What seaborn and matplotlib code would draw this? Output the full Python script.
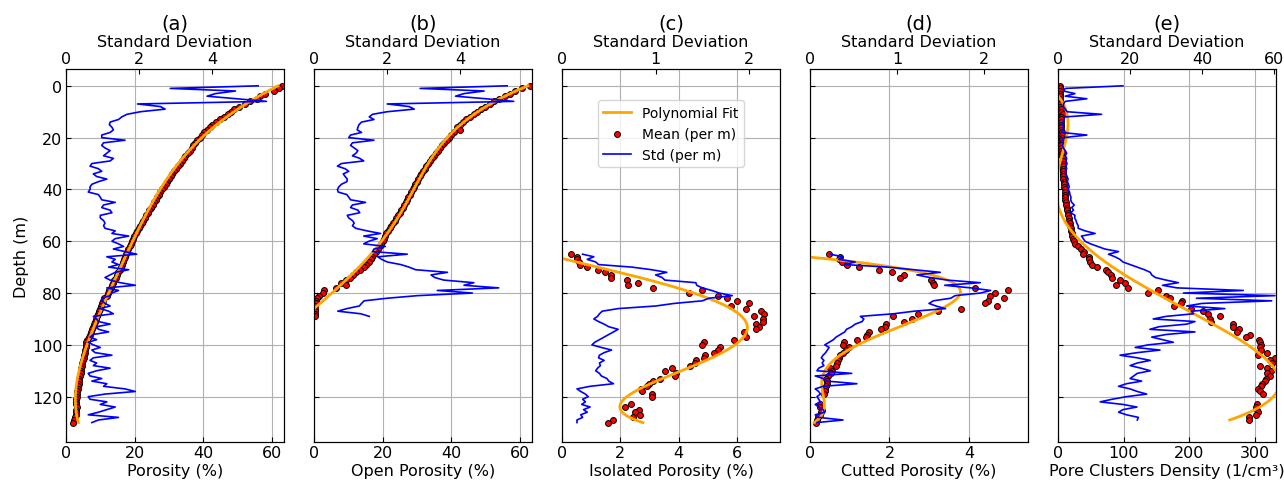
import numpy as np
import seaborn as sns
import matplotlib.pyplot as plt

# ---- (a) Porosity, 0-130 m ----
depth_a = np.arange(0, 131)
mean_a = [63.0, 62.0, 60.5, 58.0, 56.5, 55.5, 53.5, 52.0, 50.5, 49.0,
          48.0, 47.2, 46.0, 44.8, 43.6, 42.6, 41.8, 41.0, 40.3, 39.6,
          39.0, 38.3, 37.6, 37.1, 36.6, 36.0, 35.4, 34.8, 34.3, 33.7,
          33.2, 32.6, 32.1, 31.5, 31.0, 30.5, 30.0, 29.5, 29.0, 28.5,
          28.0, 27.5, 27.1, 26.6, 26.1, 25.6, 25.2, 24.7, 24.2, 23.8,
          23.4, 22.9, 22.5, 22.1, 21.6, 21.2, 20.8, 20.3, 19.8, 19.5,
          19.1, 18.8, 18.6, 18.2, 17.9, 17.6, 17.3, 16.9, 16.6, 16.3,
          16.0, 15.6, 15.2, 14.8, 14.5, 14.1, 13.7, 13.4, 13.0, 12.6,
          12.3, 11.8, 11.2, 10.9, 10.6, 10.2, 9.9, 9.6, 9.3, 9.0,
          8.7, 8.4, 8.1, 7.9, 7.6, 7.3, 7.0, 6.6, 6.1, 5.8,
          5.9, 5.7, 5.6, 5.5, 5.3, 5.2, 5.0, 4.8, 4.6, 4.5,
          4.4, 4.3, 4.1, 3.9, 3.8, 3.7, 3.5, 3.4, 3.3, 3.2,
          3.2, 3.0, 2.9, 3.0, 3.3, 3.0, 2.9, 2.8, 2.5, 2.2, 1.9]
std_a = [5.27, 2.86, 4.65, 4.1, 3.87, 4.7, 5.5, 1.96, 2.59, 2.72,
         2.04, 1.67, 1.53, 1.44, 1.21, 1.19, 1.26, 1.3, 1.21, 0.98,
         0.98, 1.62, 1.03, 0.98, 1.07, 1.21, 1.12, 1.03, 1.3, 1.21,
         0.71, 0.66, 0.89, 0.98, 0.75, 0.84, 1.12, 0.89, 0.71, 0.66,
         0.66, 0.61, 0.89, 0.94, 0.98, 1.35, 1.03, 0.98, 1.21, 1.26,
         0.94, 0.94, 1.03, 1.07, 1.03, 1.07, 1.35, 1.26, 1.72, 1.35,
         1.26, 1.44, 1.58, 1.3, 1.62, 1.94, 1.12, 1.35, 1.26, 1.44,
         1.17, 1.72, 1.35, 1.21, 1.07, 1.21, 1.49, 1.9, 1.12, 1.44,
         1.26, 1.21, 0.98, 0.98, 1.07, 1.21, 0.94, 1.17, 1.3, 0.75,
         0.84, 0.89, 1.21, 0.84, 0.89, 1.17, 0.75, 0.66, 0.84, 0.61,
         0.75, 0.94, 0.71, 0.8, 1.26, 0.75, 0.66, 0.84, 0.75, 1.21,
         0.84, 0.61, 0.66, 0.98, 0.71, 1.12, 1.03, 1.62, 1.9, 1.07,
         0.61, 0.66, 1.12, 0.94, 1.35, 1.12, 0.89, 0.61, 1.44, 0.89, 0.71]

# ---- (b) Open porosity, 0-89 m ----
depth_b = np.arange(0, 90)
mean_b = [62.8, 60.5, 58.5, 57.0, 55.6, 54.0, 52.5, 51.2, 49.8, 48.6,
          47.5, 46.5, 45.4, 44.3, 43.4, 42.4, 41.6, 42.6, 40.8, 39.9,
          39.3, 38.6, 37.9, 37.3, 36.7, 36.1, 35.5, 34.9, 34.4, 33.8,
          33.2, 32.7, 32.2, 31.7, 31.2, 30.8, 30.3, 29.9, 29.5, 29.1,
          28.7, 28.3, 27.9, 27.5, 27.1, 26.7, 26.2, 25.8, 25.4, 25.0,
          24.5, 24.0, 23.5, 23.0, 22.5, 22.0, 21.5, 21.0, 20.6, 20.3,
          20.0, 19.5, 19.1, 18.6, 18.0, 17.5, 17.0, 16.5, 16.0, 15.2,
          14.6, 13.5, 12.3, 11.5, 10.5, 9.3, 7.8, 9.2, 6.4, 3.0,
          2.6, 1.6, 1.0, 0.6, 0.5, 0.4, 0.4, 0.3, 0.3, 0.3]
std_b = [5.28, 2.9, 4.65, 4.1, 3.87, 4.7, 5.46, 2.0, 2.6, 2.74,
         2.0, 1.6, 1.51, 1.64, 1.3, 1.23, 1.2, 1.18, 1.3, 1.0,
         0.95, 1.64, 1.05, 1.0, 1.1, 1.2, 1.15, 1.05, 1.25, 1.36,
         0.75, 0.64, 0.85, 0.95, 0.8, 0.85, 0.91, 0.9, 0.75, 0.68,
         0.64, 0.66, 0.9, 0.95, 1.0, 1.41, 1.05, 1.0, 1.2, 1.25,
         0.91, 0.95, 1.05, 1.1, 1.05, 1.14, 1.45, 1.82, 1.36, 1.73,
         1.5, 1.36, 1.95, 1.64, 1.6, 2.55, 1.74, 1.85, 2.0, 2.37,
         2.6, 2.78, 3.65, 3.2, 3.3, 3.55, 4.37, 4.1, 5.05, 3.37,
         4.33, 2.83, 2.0, 1.37, 1.3, 1.24, 0.9, 0.65, 1.28, 1.51]

# ---- (c) Isolated porosity, 65-130 m ----
depth_c = np.r_[65:96, 97:121, 123:131]
mean_c = [0.32, 0.53, 0.51, 0.58, 0.63, 0.85, 1.25, 1.48, 1.67, 1.68,
          2.24, 2.61, 2.25, 3.13, 4.8, 4.35, 5.36, 5.66, 6.0, 6.4,
          5.8, 6.31, 6.82, 6.93, 6.59, 6.9, 6.88, 6.63, 6.74, 6.65,
          6.23, 6.31, 5.9, 4.85, 4.81, 5.4, 5.36, 5.2, 4.89, 4.85,
          4.6, 4.55, 4.38, 3.77, 3.52, 3.92, 3.86, 3.35, 3.13, 2.98,
          2.9, 2.7, 2.73, 3.09, 3.07,
          2.35, 2.16, 2.65, 2.5, 2.67, 2.42, 1.73, 1.57]
depth_c_std = np.arange(65, 131)
std_c = [0.22, 0.34, 0.27, 0.36, 0.39, 0.75, 0.96, 1.12, 1.0, 1.07,
         1.1, 1.43, 1.44, 1.5, 1.6, 1.68, 1.82, 1.57, 1.5, 1.2,
         1.0, 0.6, 0.43, 0.4, 0.38, 0.34, 0.39, 0.45, 0.5, 0.6,
         0.55, 0.5, 0.45, 0.4, 0.35, 0.32, 0.42, 0.53, 0.45, 0.4,
         0.39, 0.45, 0.4, 0.41, 0.38, 0.36, 0.4, 0.42, 0.48, 0.5,
         0.55, 0.3, 0.16, 0.2, 0.25, 0.28, 0.22, 0.25, 0.21, 0.3,
         0.23, 0.27, 0.2, 0.22, 0.16, 0.16]

# ---- (d) Cutted porosity, 65-130 m ----
depth_d = np.r_[65:120, 123:131]
mean_d = [0.48, 0.75, 0.72, 0.8, 0.92, 1.23, 1.74, 2.07, 2.37, 2.26,
          3.04, 3.1, 3.13, 4.15, 4.99, 4.67, 4.53, 4.89, 4.48, 4.4,
          4.72, 3.79, 3.23, 2.71, 2.1, 2.56, 2.37, 1.91, 1.89, 1.78,
          1.49, 1.44, 1.42, 1.19, 0.85, 0.84, 0.99, 0.9, 0.84, 0.75,
          0.72, 0.7, 0.69, 0.65, 0.5, 0.55, 0.54, 0.45, 0.4, 0.42,
          0.43, 0.4, 0.38, 0.38, 0.36,
          0.25, 0.25, 0.29, 0.27, 0.25, 0.21, 0.18, 0.15]
depth_d_std = np.arange(65, 131)
std_d = [0.23, 0.38, 0.33, 0.52, 0.4, 0.9, 1.2, 1.5, 1.23, 1.38,
         1.58, 1.96, 1.55, 1.85, 2.08, 1.96, 1.67, 1.62, 1.42, 1.37,
         1.45, 1.56, 1.2, 0.96, 0.58, 0.62, 0.6, 0.52, 0.48, 0.42,
         0.4, 0.35, 0.3, 0.27, 0.22, 0.17, 0.22, 0.2, 0.18, 0.15,
         0.13, 0.16, 0.14, 0.16, 0.1, 0.08, 0.48, 0.06, 0.15, 0.2,
         0.54, 0.15, 0.06, 0.1, 0.12, 0.08, 0.1, 0.12, 0.06, 0.1,
         0.15, 0.17, 0.06, 0.1, 0.38, 0.08]

# ---- (e) Pore clusters density, 0-129 m ----
depth_e = np.r_[0:120, 123:130]
mean_e = [3, 3, 3, 3, 3, 3, 3, 3.5, 3.5, 4,
          4, 7, 5, 4, 4, 4.5, 5, 5, 6, 6,
          6, 6, 5.5, 5, 5, 5, 5.5, 6, 7, 7,
          7.5, 8, 8, 7.5, 7.5, 7, 8, 9, 9, 9.5,
          10, 10, 10.5, 11, 11, 12, 12.5, 13, 14, 15,
          15.5, 16, 17, 17.5, 18, 19, 20, 21, 22, 23,
          24, 26, 30, 34.5, 39.6, 38, 46.7, 47.2, 49.2, 51.8,
          60, 73.6, 76.1, 80.2, 82.2, 93.9, 101.5, 87.8, 106.6, 152.3,
          137, 165, 171, 188.8, 186.8, 176.6, 203, 220.8, 227.9, 246.2,
          231, 233.5, 266.5, 266.5, 275, 272.6, 292.9, 285.8, 305.6, 307.1,
          309.6, 307.1, 309, 317.3, 303.6, 330, 322.7, 324.9, 307, 317.3,
          323.9, 318.8, 322, 316, 314.7, 310, 308.6, 304.6, 307.1, 312.2,
          303, 301, 303, 304, 302, 290.9, 290.4]
depth_e_std = np.arange(0, 130)
std_e = [18, 2, 1.5, 4.7, 2, 8, 2, 1.5, 1.5, 2,
         2.5, 12.1, 2, 1.5, 1.5, 1.2, 1.5, 1.5, 1, 8,
         1.5, 1.2, 1.5, 1.2, 1.5, 2, 2.4, 2, 2.4, 2.2,
         2.5, 2.2, 2.4, 2, 2.2, 2.5, 2.8, 2.6, 2.9, 3.1,
         2.8, 3.2, 3.3, 3.6, 3.5, 3.8, 4.5, 3.8, 4.3, 3.5,
         4.7, 4.6, 5, 5.2, 5.6, 5.6, 7.5, 10.3, 6.5, 7,
         7.5, 9, 11, 13, 16.8, 14, 15.8, 17.2, 18, 20,
         22, 24, 25.6, 26, 27, 30, 33.4, 29, 33, 51.4,
         34.8, 60.2, 38.4, 59.3, 40, 35.7, 46.3, 37, 37.6, 30,
         26.4, 38, 35.7, 28, 25.5, 38, 30, 26, 29, 32,
         25, 21.4, 28.3, 22, 17.2, 22, 25.6, 22, 20, 23,
         25.6, 22, 21, 20, 23.2, 19, 16.8, 20, 22, 24.6,
         19, 15, 11.7, 18, 21.9, 18, 16.8, 19, 22.3, 22]

panels = [
    ("(a)", "Porosity (%)", depth_a, mean_a, depth_a, std_a, 63.5, 5.98),
    ("(b)", "Open Porosity (%)", depth_b, mean_b, depth_b, std_b, 63.5, 5.96),
    ("(c)", "Isolated Porosity (%)", depth_c, mean_c, depth_c_std, std_c, 7.47, 2.33),
    ("(d)", "Cutted Porosity (%)", depth_d, mean_d, depth_d_std, std_d, 5.49, 2.51),
    ("(e)", "Pore Clusters Density (1/cm³)", depth_e, mean_e, depth_e_std, std_e, 331.8, 60.5),
]

FS = 11.5

fig, axes = plt.subplots(1, 5, figsize=(12.84, 4.81), dpi=100, sharey=True)
plt.subplots_adjust(left=0.0514, right=0.9938, top=0.8545, bottom=0.079, wspace=0.1376)

for i, (title, xlabel, dm, mv, ds, sv, xmax, smax) in enumerate(panels):
    ax = axes[i]
    dm = np.asarray(dm, dtype=float)
    mv = np.asarray(mv, dtype=float)

    sns.scatterplot(x=mv, y=dm, color="red", edgecolor="black", linewidth=0.7,
                    s=18, legend=False, label="Mean (per m)", ax=ax, zorder=2)

    # polynomial fit of mean vs depth
    coef = np.polyfit(dm, mv, 4)
    dd = np.linspace(dm.min(), dm.max(), 300)
    sns.lineplot(x=np.polyval(coef, dd), y=dd, orient="y", estimator=None,
                 color="orange", linewidth=2, legend=False, label="Polynomial Fit",
                 ax=ax, zorder=3)

    ax.set_xlim(0, xmax)
    ax.set_ylim(137.5, -6.5)
    ax.grid(True, color="#b0b0b0", linewidth=0.8)
    ax.set_axisbelow(True)
    ax.tick_params(direction="in", labelsize=FS, pad=2.5)
    ax.set_xlabel(xlabel, fontsize=FS, labelpad=2)
    ax.set_ylabel("")

    tw = ax.twiny()
    sns.lineplot(x=sv, y=ds, orient="y", estimator=None, color="blue",
                 linewidth=1.2, legend=False, label="Std (per m)", ax=tw)
    tw.set_xlim(0, smax)
    tw.tick_params(direction="in", labelsize=FS, pad=2.5)
    tw.set_xlabel("Standard Deviation", fontsize=FS, labelpad=3)
    tw.set_ylabel("")
    ax.set_title(title, fontsize=14, pad=4)

    if i == 2:
        h1, l1 = ax.get_legend_handles_labels()
        h2, l2 = tw.get_legend_handles_labels()
        hl = dict(zip(l1 + l2, h1 + h2))
        order = ["Polynomial Fit", "Mean (per m)", "Std (per m)"]
        tw.legend([hl[k] for k in order], order, loc="upper center",
                  bbox_to_anchor=(0.5, 0.935), fontsize=10, scatterpoints=1)

axes[0].set_ylabel("Depth (m)", fontsize=FS, labelpad=2)
axes[0].set_yticks([0, 20, 40, 60, 80, 100, 120])

plt.savefig("out.png", dpi=100)
